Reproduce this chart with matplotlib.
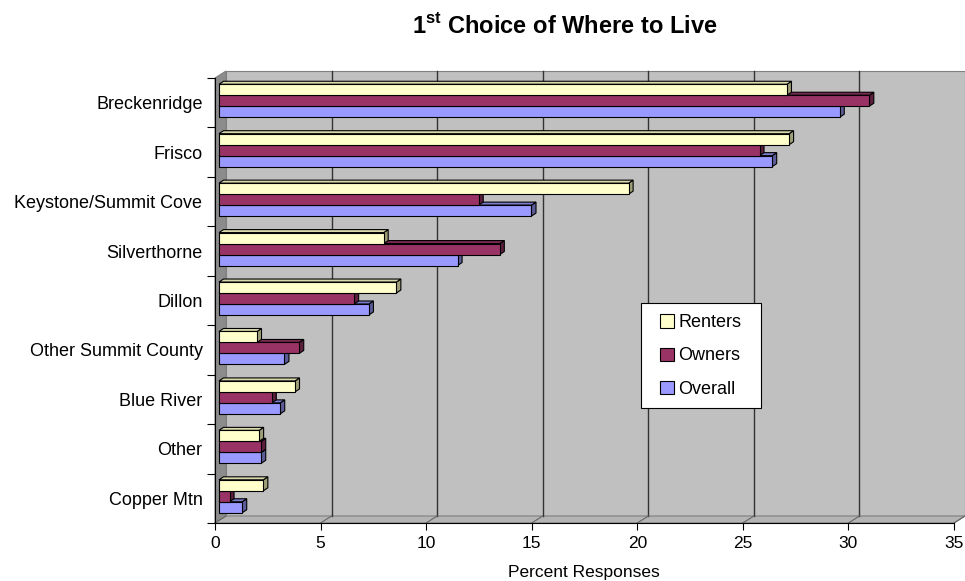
import matplotlib
matplotlib.use('Agg')
import matplotlib.pyplot as plt
import matplotlib.transforms as mtransforms
from matplotlib import font_manager
from matplotlib.patches import Polygon, Rectangle, Patch

# Survey results, percent of responses
categories = ['Breckenridge', 'Frisco', 'Keystone/Summit Cove', 'Silverthorne',
              'Dillon', 'Other Summit County', 'Blue River', 'Other', 'Copper Mtn']
renters = [26.9, 27.0, 19.4, 7.8, 8.4, 1.8, 3.6, 1.9, 2.1]
owners = [30.8, 25.6, 12.3, 13.3, 6.4, 3.8, 2.5, 2.0, 0.5]
overall = [29.4, 26.2, 14.8, 11.3, 7.1, 3.1, 2.9, 2.0, 1.1]
x_ticks = [0, 5, 10, 15, 20, 25, 30, 35]

installed = {f.name for f in font_manager.fontManager.ttflist}
narrow = 'Liberation Sans Narrow' if 'Liberation Sans Narrow' in installed else 'Liberation Sans'
title_size = 19 if narrow == 'Liberation Sans Narrow' else 17
plt.rcParams['font.family'] = ['Liberation Sans', 'DejaVu Sans']
plt.rcParams['mathtext.fontset'] = 'custom'
plt.rcParams['mathtext.rm'] = narrow + ':bold'

W, H = 965, 581
fig = plt.figure(figsize=(W / 100, H / 100), dpi=100)
ax = fig.add_axes([215 / W, (H - 523) / H, 739 / W, 445 / H])
n = len(categories)
ax.set_xlim(0, 35)
ax.set_ylim(n, 0)

# pixel -> data unit sizes
ux = 35 / 739.0
uy = n / 445.0

# 3-D depth of the walls (right, up in pixels)
wx, wy = 11 * ux, -7 * uy

back_wall = Rectangle((wx, wy), 35, n, facecolor='#C0C0C0', edgecolor='#808080',
                      lw=0.8, clip_on=False, zorder=0)
ax.add_patch(back_wall)
left_wall = Polygon([(0, n), (0, 0), (wx, wy), (wx, n + wy)], closed=True,
                    facecolor='#8C8C8C', edgecolor='#808080', lw=0.8,
                    clip_on=False, zorder=0.5)
ax.add_patch(left_wall)
floor = Polygon([(0, n), (35, n), (35 + wx, n + wy), (wx, n + wy)], closed=True,
                facecolor='#B4B4B4', edgecolor='#808080', lw=0.8,
                clip_on=False, zorder=0.5)
ax.add_patch(floor)

for t in x_ticks[1:-1]:
    ax.plot([t + wx, t + wx], [wy, n + wy], color='#333333', lw=1.0,
            clip_on=False, zorder=0.6)
for t in x_ticks:
    ax.plot([t, t + wx], [n, n + wy], color='#666666', lw=0.8,
            clip_on=False, zorder=0.6)

# bars sit a little behind the front plane
front = mtransforms.offset_copy(ax.transData, fig=fig, x=4, y=2, units='dots')
dx, dy = 4.5 * ux, -3 * uy
h = 0.222

series = [
    (overall, 0.222, '#9999FF', '#7A7ACC', '#5C5C99'),
    (owners, 0.0, '#993366', '#7A2952', '#5C1F3D'),
    (renters, -0.222, '#FFFFCC', '#D9D9AD', '#9E9E78'),
]

z = 2
for i in range(n):
    for vals, off, face, top, side in series:
        v = vals[i]
        c = i + 0.5 + off
        y0, y1 = c - h / 2, c + h / 2
        ax.add_patch(Polygon([(v, y0), (v, y1), (v + dx, y1 + dy), (v + dx, y0 + dy)],
                             closed=True, facecolor=side, edgecolor='black',
                             lw=0.8, transform=front, clip_on=False, zorder=z))
        ax.add_patch(Polygon([(0, y0), (v, y0), (v + dx, y0 + dy), (dx, y0 + dy)],
                             closed=True, facecolor=top, edgecolor='black',
                             lw=0.8, transform=front, clip_on=False, zorder=z))
        ax.barh(c, v, height=h, color=face, edgecolor='black', lw=0.8,
                transform=front, clip_on=False, zorder=z + 0.5)
        z += 1

ax.set_xlim(0, 35)
ax.set_ylim(n, 0)

for s in ['top', 'right']:
    ax.spines[s].set_visible(False)
ax.spines['left'].set_color('black')
ax.spines['bottom'].set_color('black')
ax.spines['left'].set_zorder(1)
ax.spines['bottom'].set_zorder(1)
ax.patch.set_visible(False)

ax.set_xticks(x_ticks)
ax.tick_params(axis='x', length=5, width=0.8, pad=4, labelsize=12.5)
ax.set_yticks([i + 0.5 for i in range(n)])
ax.set_yticklabels(categories)
ax.set_yticks(range(n + 1), minor=True)
ax.tick_params(axis='y', which='major', length=0, pad=9, labelsize=13)
ax.tick_params(axis='y', which='minor', length=6, width=0.8)

fig.text(584 / W, 1 - 573 / H, 'Percent Responses', ha='center', va='center',
         fontsize=12.5)
fig.text(565 / W, 1 - 33 / H, r'1$^{\rm st}$ Choice of Where to Live',
         ha='center', va='baseline', fontsize=title_size, fontweight='bold',
         family=narrow)

# legend
fig.patches.append(Rectangle((641 / W, 1 - 408 / H), 120 / W, 105 / H,
                             transform=fig.transFigure, facecolor='white',
                             edgecolor='black', lw=0.8, zorder=50))
handles = [Patch(facecolor='#FFFFCC', edgecolor='black', lw=0.8, label='Renters'),
           Patch(facecolor='#993366', edgecolor='black', lw=0.8, label='Owners'),
           Patch(facecolor='#9999FF', edgecolor='black', lw=0.8, label='Overall')]
leg = fig.legend(handles=handles, loc='center', bbox_to_anchor=(701 / W, 1 - 356 / H),
                 frameon=False, fontsize=13, handlelength=0.75, handleheight=0.75,
                 handletextpad=0.25, labelspacing=0.9)
leg.set_zorder(60)

fig.savefig('out.png', dpi=100)
